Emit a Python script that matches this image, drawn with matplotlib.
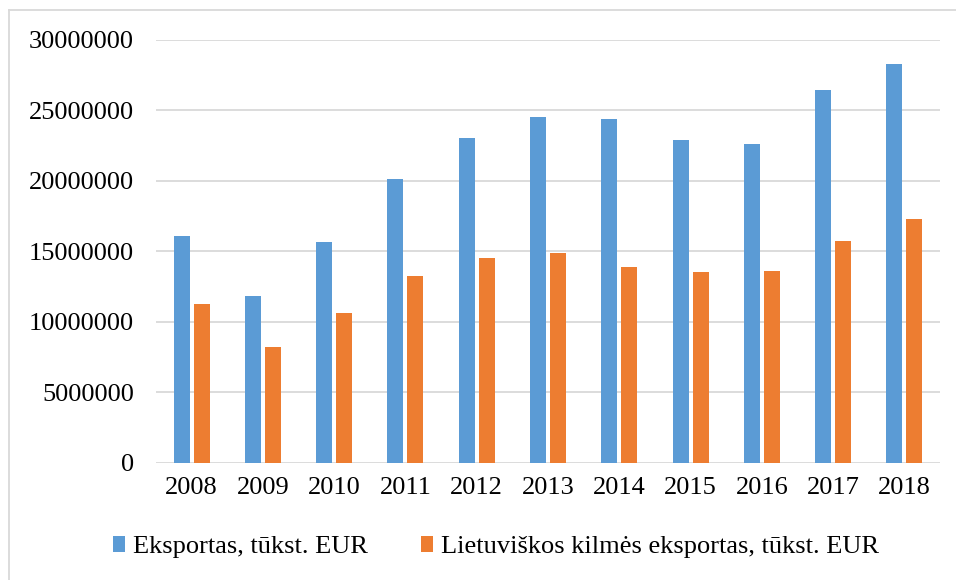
import matplotlib
matplotlib.use("Agg")
import matplotlib.pyplot as plt
from matplotlib.lines import Line2D
import numpy as np

years = ["2008", "2009", "2010", "2011", "2012", "2013", "2014", "2015", "2016", "2017", "2018"]
eksportas = [16060000, 11800000, 15650000, 20140000, 23050000, 24560000, 24390000, 22920000, 22620000, 26430000, 28290000]
lt_kilmes = [11230000, 8180000, 10600000, 13260000, 14500000, 14860000, 13860000, 13530000, 13580000, 15710000, 17320000]
yticks = [0, 5000000, 10000000, 15000000, 20000000, 25000000, 30000000]
series_names = ["Eksportas, tūkst. EUR", "Lietuviškos kilmės eksportas, tūkst. EUR"]

plt.rcParams['font.family'] = ['Liberation Serif', 'DejaVu Serif']

W, H = 956, 580
fig = plt.figure(figsize=(W / 100, H / 100), dpi=100)
ax = fig.add_axes([156 / W, 1 - 462.7 / H, (940 - 156) / W, (462.7 - 40) / H])

x = np.arange(len(years))
bw = 0.224
off = 0.14
ax.bar(x - off, eksportas, bw, color="#5B9BD5", label=series_names[0], zorder=3)
ax.bar(x + off, lt_kilmes, bw, color="#ED7D31", label=series_names[1], zorder=3)

ax.set_xlim(-0.5, len(years) - 0.5)
ax.set_ylim(0, 30000000)
ax.set_yticks(yticks)
ax.set_yticklabels([str(v) for v in yticks])
ax.set_xticks(x)
ax.set_xticklabels(years)
ax.yaxis.grid(True, color="#d9d9d9", linewidth=1.3, zorder=0)
ax.set_axisbelow(True)
for s in ax.spines.values():
    s.set_visible(False)
ax.tick_params(axis="y", length=0, pad=16, labelsize=19, labelcolor="black")
ax.tick_params(axis="x", length=0, pad=10, labelsize=19, labelcolor="black")

leg = fig.legend(loc="center", bbox_to_anchor=(496 / W, 1 - 547 / H), ncol=2, frameon=False,
                 fontsize=19, handlelength=0.45, handleheight=0.55, handletextpad=0.3,
                 columnspacing=2.0, borderaxespad=0)

# outer chart border (top and left visible)
fig.add_artist(Line2D([9 / W, 1.0], [1 - 10 / H, 1 - 10 / H], transform=fig.transFigure, color="#d9d9d9", lw=1.3))
fig.add_artist(Line2D([9 / W, 9 / W], [0, 1 - 10 / H], transform=fig.transFigure, color="#d9d9d9", lw=1.3))

fig.savefig("out.png", dpi=100)
